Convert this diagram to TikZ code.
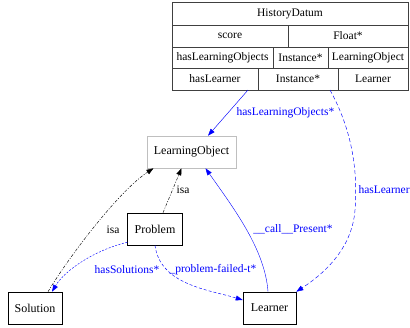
\documentclass[tikz,border=0pt]{standalone}
\usepackage{fontspec}
\setmainfont{Liberation Serif}
\usetikzlibrary{arrows.meta}
\begin{document}
\begin{tikzpicture}[x=1pt,y=-1pt,
  every node/.style={font=\fontsize{11.5}{13}\selectfont},
  cell/.style={draw=black!75, line width=0.6pt, rectangle, anchor=north west,
    inner sep=0pt, outer sep=0pt},
  cls/.style={draw=black, line width=0.6pt, rectangle, inner sep=0pt,
    minimum height=32pt, font=\fontsize{12}{14}\selectfont},
  tip/.style={-{Triangle[length=7pt,width=5pt]}},
  rel/.style={draw=blue, line width=0.45pt, tip},
  lbl/.style={text=blue},
  isa/.style={draw=black, line width=0.45pt, tip,
    dash pattern=on 3pt off 1.5pt on 1pt off 1.5pt}
]
\useasboundingbox (0,0) rectangle (410,327);

% HistoryDatum record
\node[cell, minimum width=236pt, minimum height=23pt] (r1) at (172,2) {HistoryDatum};
\node[cell, minimum width=116pt, minimum height=22pt] (r2a) at (172,25) {score};
\node[cell, minimum width=120pt, minimum height=22pt] (r2b) at (288,25) {Float*};
\node[cell, minimum width=101pt, minimum height=21pt] (r3a) at (172,47) {hasLearningObjects};
\node[cell, minimum width=55pt, minimum height=21pt] (r3b) at (273,47) {Instance*};
\node[cell, minimum width=80pt, minimum height=21pt] (r3c) at (328,47) {LearningObject};
\node[cell, minimum width=86pt, minimum height=22pt] (r4a) at (172,68) {hasLearner};
\node[cell, minimum width=80pt, minimum height=22pt] (r4b) at (258,68) {Instance*};
\node[cell, minimum width=70pt, minimum height=22pt] (r4c) at (338,68) {Learner};

% classes
\node[cls, draw=gray!50, minimum width=89pt] (lo) at (191.5,152) {LearningObject};
\node[cls, minimum width=55pt] (problem) at (155,229) {Problem};
\node[cls, minimum width=54pt] (solution) at (35,308) {Solution};
\node[cls, minimum width=53pt] (learner) at (269.5,308) {Learner};

% relations
\draw[rel] ([xshift=-10pt]r4a.south east) -- ([xshift=16.5pt]lo.north);
\node[lbl, anchor=west] (lhlo) at (233,113) {hasLearningObjects*};

\draw[rel, dash pattern=on 4pt off 2.5pt] ([xshift=-8pt]r4b.south east)
  .. controls (352,130) and (358,170) .. (355,210)
  .. controls (352,250) and (322,275) .. (learner.north east);
\node[lbl, anchor=west] (lhl) at (355,190) {hasLearner};

\draw[isa] ([xshift=8pt]problem.north) -- ([xshift=-10pt]lo.south);
\node (lisa1) at (183,190) {isa};

\draw[isa] ([xshift=13pt]solution.north)
  .. controls (70,255) and (120,190) .. ([xshift=-38pt]lo.south);
\node (lisa2) at (113,230) {isa};

\draw[rel, line width=0.4pt] ([xshift=-1.5pt]learner.north)
  .. controls (265,250) and (235,210) .. ([xshift=14pt]lo.south);
\node[lbl] (lcall) at (293,229) {\_\_call\_\_Present*};

\draw[rel, dash pattern=on 2pt off 1.5pt] ([yshift=3pt]problem.south west)
  .. controls (95,250) and (65,270) .. ([xshift=17pt]solution.north);
\node[lbl] (lsol) at (127,270) {hasSolutions*};

\draw[rel, dash pattern=on 3pt off 2pt] (problem.south)
  .. controls (160,285) and (210,290) .. ([yshift=8pt]learner.west);
\node[lbl] (lfail) at (213,270) {\_problem-failed-t*};
\end{tikzpicture}
\end{document}
